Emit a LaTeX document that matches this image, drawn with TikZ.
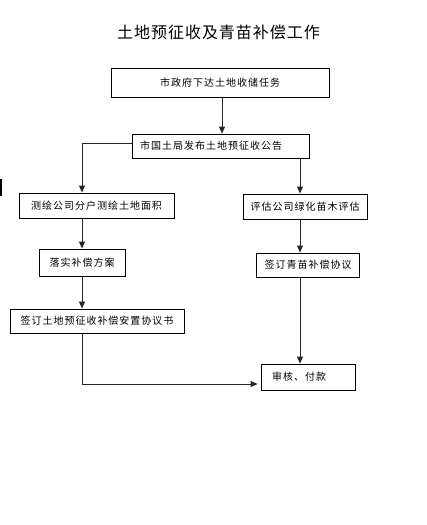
\documentclass[tikz,border=0pt]{standalone}
\usepackage{fontspec}
\setmainfont{Noto Sans CJK SC}
\newfontfamily\cjkbox[LetterSpace=10]{Noto Sans CJK SC}
\newfontfamily\cjktitle[LetterSpace=6]{Noto Sans CJK SC}
\usetikzlibrary{arrows.meta}
\tikzset{
  box/.style={draw=black, line width=0.9pt, inner xsep=0pt, inner ysep=0pt, font=\cjkbox\fontsize{10}{12}\selectfont, align=center},
  arr/.style={draw=black!85, line width=0.9pt, -{Triangle[length=7pt,width=6pt]}},
  ln/.style={draw=black!85, line width=0.9pt}
}
\begin{document}
\begin{tikzpicture}[x=1pt,y=-1pt]
\useasboundingbox (0,0) rectangle (426,525);
\fill[white] (0,0) rectangle (426,525);
\node[font=\cjktitle\fontsize{16}{18}\selectfont] (title) at (218.5,32) {土地预征收及青苗补偿工作};
\node[box, minimum width=218pt, minimum height=29pt] (b1) at (220,82.5) {市政府下达土地收储任务};
\node[box, minimum width=177pt, minimum height=24pt, text width=161pt, inner xsep=8pt, align=left] (b2) at (220.5,146) {市国土局发布土地预征收公告};
\node[box, minimum width=155pt, minimum height=25pt] (b3) at (96.5,205.5) {测绘公司分户测绘土地面积};
\node[box, minimum width=124pt, minimum height=25pt] (b4) at (305,206.5) {评估公司绿化苗木评估};
\node[box, minimum width=86pt, minimum height=27pt] (b5) at (82,262.5) {落实补偿方案};
\node[box, minimum width=103pt, minimum height=24pt] (b6) at (308,265) {签订青苗补偿协议};
\node[box, minimum width=174pt, minimum height=24pt] (b7) at (97,321) {签订土地预征收补偿安置协议书};
\node[box, minimum width=94pt, minimum height=26pt, text width=72pt, inner xsep=11pt, align=left] (b8) at (308,377) {审核、付款};
\coordinate (lc) at (82,0);
\coordinate (rc) at (300,0);
\coordinate (mc) at (222,0);
\coordinate (jy) at (0,384);
\coordinate (wy) at (0,143);
\draw[arr] (mc |- b1.south) -- (mc |- b2.north);
\draw[arr] (b2.west |- wy) -| (lc |- b3.north);
\draw[arr] (rc |- b2.south) -- (rc |- b4.north);
\draw[arr] (lc |- b3.south) -- (lc |- b5.north);
\draw[arr] (rc |- b4.south) -- (rc |- b6.north);
\draw[arr] (lc |- b5.south) -- (lc |- b7.north);
\draw[arr] (rc |- b6.south) -- (rc |- b8.north);
\draw[arr] (lc |- b7.south) |- ([xshift=-3pt]b8.west |- jy);
\fill[black] (0,179) rectangle (2,196);
\end{tikzpicture}
\end{document}
